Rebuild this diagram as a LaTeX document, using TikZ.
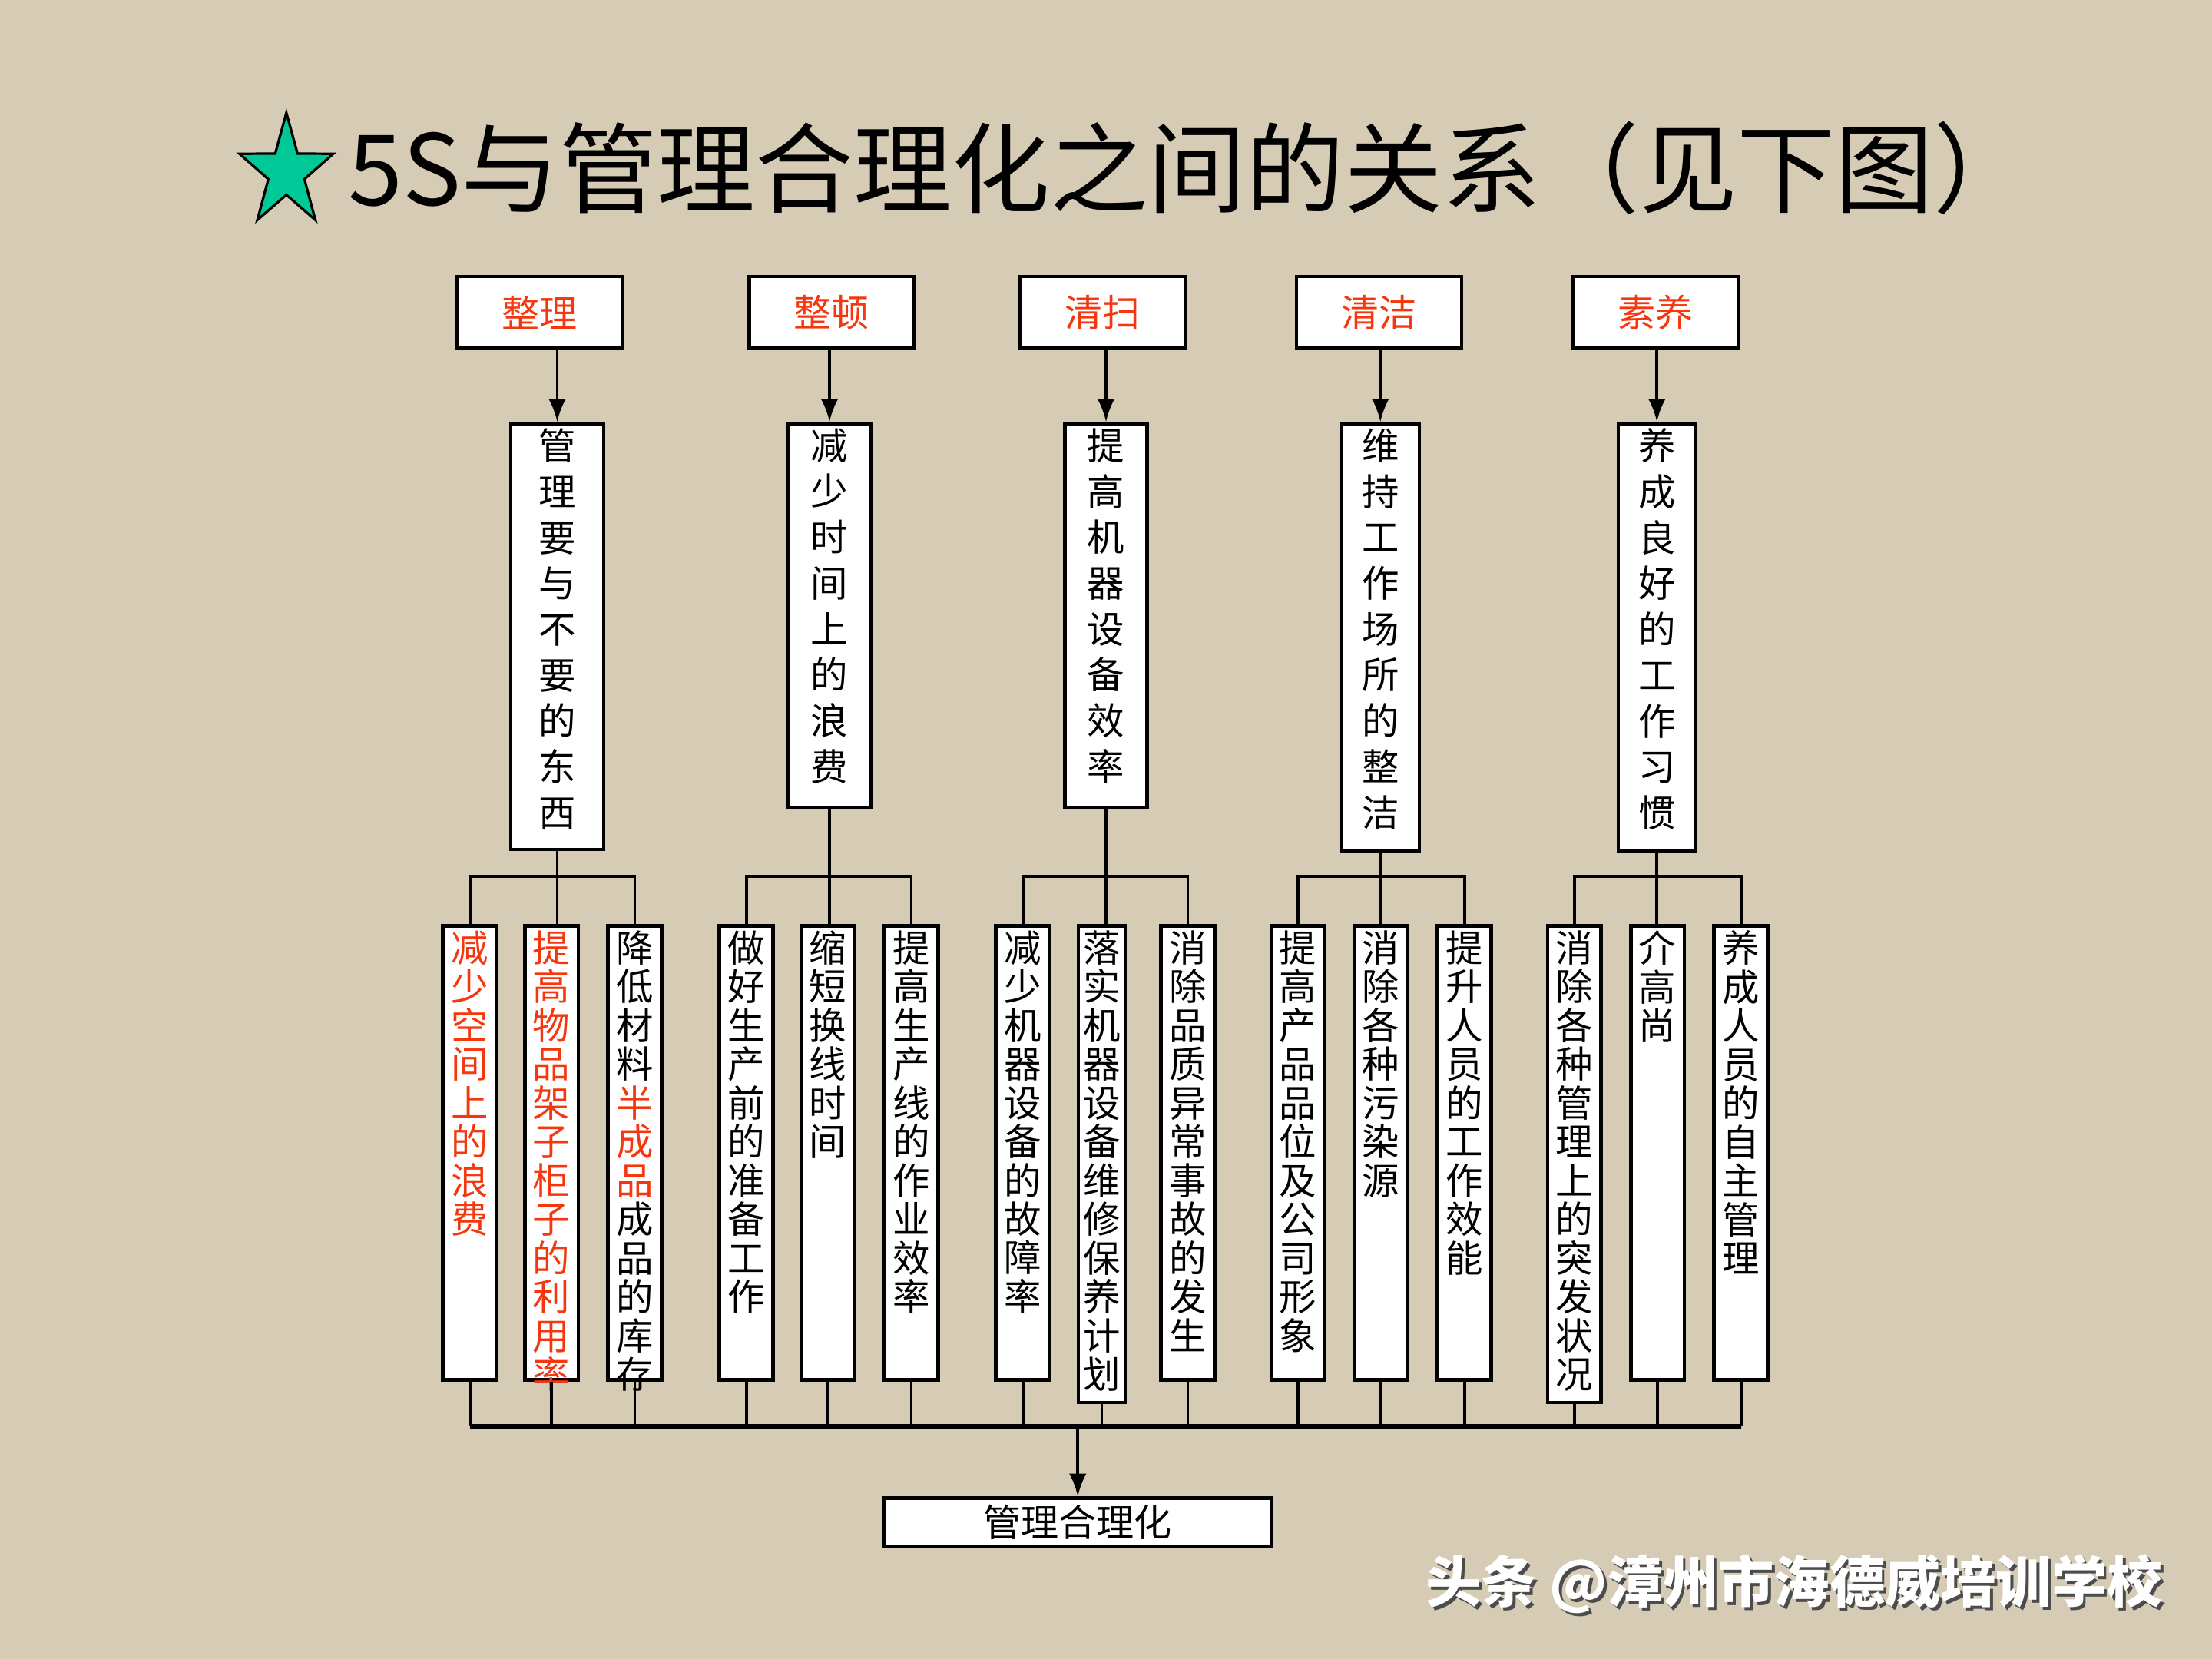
\documentclass[tikz,border=0pt]{standalone}
\usepackage{fontspec}
\usetikzlibrary{shapes.geometric}
\newfontfamily\cjk{Noto Sans CJK SC}
\definecolor{bei}{RGB}{214,203,181}
\definecolor{hong}{RGB}{245,55,15}
\definecolor{qing}{RGB}{0,200,150}
% one character per line
\def\shuend{}
\newcommand\shu[1]{\shuA#1\shuend}
\def\shuA#1#2{#1\ifx#2\shuend\else\\\expandafter\shuA\expandafter#2\fi}
\begin{document}
\begin{tikzpicture}
\tikzstyle{kuang} = [draw, fill=white, line width=0.7pt, inner sep=0pt]
\tikzstyle{biao} = [kuang, minimum width=1.17cm, minimum height=0.51cm, text=hong, font=\cjk\fontsize{7.6}{9}\selectfont]
\tikzstyle{zhong} = [kuang, anchor=north]
\tikzstyle{wen} = [anchor=north, text width=7.5pt, align=center, inner sep=0.04cm, font=\cjk\fontsize{7.5}{9.25}\selectfont]
\tikzstyle{xiaowen} = [wen, font=\cjk\fontsize{7.5}{7.82}\selectfont]
\tikzstyle{xian} = [line width=0.6pt]
	\fill[bei] (0,0) rectangle (15.68,11.76);
	\useasboundingbox (0,0) rectangle (15.68,11.76);
	% title
	\node[star, star points=5, star point ratio=2.6, minimum size=0.7cm, inner sep=0pt, fill=qing, draw, line width=0.5pt, yscale=1.2, transform shape] (xing) at (2.03,10.54) {};
	\node[anchor=west, inner sep=0pt, font=\cjk\fontsize{19.8}{22}\selectfont] (biaoti) at (2.46,10.57) {5S与管理合理化之间的关系（见下图）};
	% 5S
	\node[biao] (t1) at (3.825,9.545) {整理};
	\node[biao] (t2) at (5.895,9.545) {整顿};
	\node[biao] (t3) at (7.815,9.545) {清扫};
	\node[biao] (t4) at (9.775,9.545) {清洁};
	\node[biao] (t5) at (11.735,9.545) {素养};
	\foreach \x/\w/\h/\n/\t in {3.95/0.66/3.02/m1/管理要与不要的东西, 5.88/0.58/2.72/m2/减少时间上的浪费, 7.84/0.58/2.72/m3/提高机器设备效率, 9.785/0.55/3.03/m4/维持工作场所的整洁, 11.745/0.55/3.03/m5/养成良好的工作习惯}{
		\node[zhong, minimum width=\w cm, minimum height=\h cm] (\n) at (\x,8.77) {};
		\node[wen] at (\n.north) {\expandafter\shu\expandafter{\t}};
	}
	\foreach \i in {1,...,5}
		\draw[xian,-latex] (t\i.south -| m\i.north) -- (m\i.north);
	% measures
	\foreach \x/\w/\h/\n/\c/\t in {3.33/0.38/3.22/a1/hong/减少空间上的浪费, 3.91/0.38/3.22/a2/hong/提高物品架子柜子的利用率,
		5.29/0.38/3.22/b1/black/做好生产前的准备工作, 5.87/0.38/3.22/b2/black/缩短换线时间, 6.46/0.38/3.22/b3/black/提高生产线的作业效率,
		7.25/0.38/3.22/c1/black/减少机器设备的故障率, 7.81/0.33/3.38/c2/black/落实机器设备维修保养计划, 8.42/0.38/3.22/c3/black/消除品质异常事故的发生,
		9.20/0.38/3.22/d1/black/提高产品品位及公司形象, 9.79/0.38/3.22/d2/black/消除各种污染源, 10.38/0.38/3.22/d3/black/提升人员的工作效能,
		11.16/0.38/3.38/e1/black/消除各种管理上的突发状况, 11.75/0.38/3.22/e2/black/介高尚, 12.34/0.38/3.22/e3/black/养成人员的自主管理}{
		\node[zhong, minimum width=\w cm, minimum height=\h cm] (\n) at (\x,5.21) {};
		\node[xiaowen, text=\c] at (\n.north) {\expandafter\shu\expandafter{\t}};
	}
	\node[zhong, minimum width=0.38cm, minimum height=3.22cm] (a3) at (4.50,5.21) {};
	\node[xiaowen] at (a3.north) {\shu{降低材料}\\\textcolor{hong}{\shu{半成品}}\\\shu{成品的库存}};
	% connectors
	\path (0,5.55) coordinate (ba) (0,1.65) coordinate (bb);
	\foreach \m/\l/\c/\r in {m1/a1/a2/a3, m2/b1/b2/b3, m3/c1/c2/c3, m4/d1/d2/d3, m5/e1/e2/e3}{
		\draw[xian] (\m.south) -- (\m.south |- \c.north);
		\draw[xian] (\l.north) |- (\r.north |- ba) -- (\r.north);
	}
	\foreach \n in {a1,a2,a3,b1,b2,b3,c1,c2,c3,d1,d2,d3,e1,e2,e3}
		\draw[xian] (\n.south) -- (\n.south |- bb);
	\draw[line width=0.9pt] (a1.south |- bb) -- (e3.south |- bb);
	\node[kuang, minimum width=2.74cm, minimum height=0.34cm, font=\cjk\fontsize{7.6}{9}\selectfont] (heli) at (7.64,0.97) {管理合理化};
	\draw[xian,-latex] (heli.north |- bb) -- (heli.north);
	% watermark
	\node[anchor=west, inner sep=0pt, text=black!70, font=\cjk\bfseries\fontsize{11.2}{13}\selectfont] at (10.12,0.51) {头条 @漳州市海德威培训学校};
	\node[anchor=west, inner sep=0pt, text=white, font=\cjk\bfseries\fontsize{11.2}{13}\selectfont] (shuiyin) at (10.10,0.53) {头条 @漳州市海德威培训学校};
\end{tikzpicture}
\end{document}
